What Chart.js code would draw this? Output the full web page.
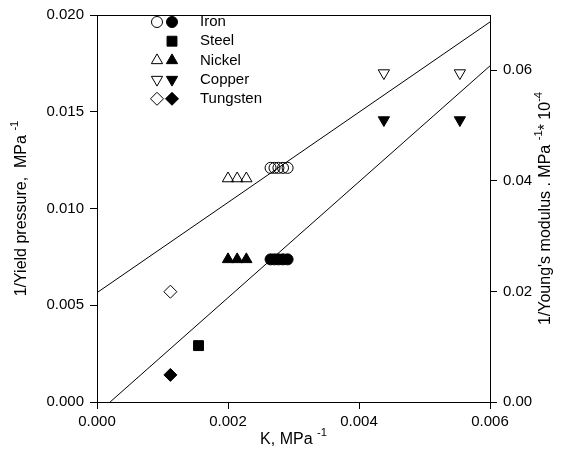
<!DOCTYPE html>
<html>
<head>
<meta charset="utf-8">
<script src="https://cdn.jsdelivr.net/npm/chart.js@4/dist/chart.umd.min.js"></script>
<style>
html,body{margin:0;padding:0;background:#fff;}
#wrap{width:569px;height:468px;}
</style>
</head>
<body>
<div id="wrap"><canvas id="c" width="569" height="468"></canvas></div>
<script>
// ---- data ----
const xTicks = [0, 0.002, 0.004, 0.006];
const yTicks = [0, 0.005, 0.010, 0.015, 0.020];
const y2Ticks = [0, 0.02, 0.04, 0.06];

const ironK = [0.00265, 0.00271, 0.00277, 0.00284, 0.00291];
const ironYield = [0.0121, 0.0121, 0.0121, 0.0121, 0.0121];
const ironYoung = [0.0258, 0.0258, 0.0258, 0.0258, 0.0258];

const steelK = [0.00155];
const steelYoung = [0.0102];

const nickelK = [0.00200, 0.00214, 0.00228];
const nickelYield = [0.01155, 0.01155, 0.01155];
const nickelYoung = [0.0258, 0.0258, 0.0258];

const copperK = [0.00438, 0.00554];
const copperYield = [0.0170, 0.0170];
const copperYoung = [0.0510, 0.0510];

const tungstenK = [0.00112];
const tungstenYield = [0.0057];
const tungstenYoung = [0.0049];

const fitYieldK = [0, 0.006];
const fitYieldV = [0.00565, 0.01964];
const fitYoungK = [0.0002, 0.006];
const fitYoungV = [0, 0.0608];

const legendNames = ['Iron', 'Steel', 'Nickel', 'Copper', 'Tungsten'];
const legendOpen = ['circle', null, 'triangle', 'triangleDown', 'rectRot'];
const legendFilled = ['circle', 'rect', 'triangle', 'triangleDown', 'rectRot'];

// ---- helpers ----
const pts = (xs, ys) => xs.map((x, i) => ({x: x, y: ys[i]}));
const FONT = "'Liberation Sans', Arial, sans-serif";
const styleFor = {
  circle: {pointStyle: 'circle', radius: 5.5, rotation: 0},
  rect: {pointStyle: 'rect', radius: 7, rotation: 0},
  triangle: {pointStyle: 'triangle', radius: 6.5, rotation: 0},
  triangleDown: {pointStyle: 'triangle', radius: 6.5, rotation: 180},
  rectRot: {pointStyle: 'rectRot', radius: 6.5, rotation: 0}
};
function scatter(data, shape, filled, axis) {
  const s = styleFor[shape];
  return {
    type: 'scatter', data: data, yAxisID: axis,
    pointStyle: s.pointStyle, pointRadius: s.radius, pointRotation: s.rotation,
    pointHoverRadius: s.radius,
    borderColor: '#000', borderWidth: 1,
    backgroundColor: filled ? '#000' : 'rgba(0,0,0,0)',
    pointBackgroundColor: filled ? '#000' : 'rgba(0,0,0,0)',
    pointBorderColor: '#000', pointBorderWidth: 1, showLine: false
  };
}
function fitLine(data, axis) {
  return {
    type: 'line', data: data, yAxisID: axis,
    borderColor: '#000', borderWidth: 1, pointRadius: 0, fill: false, tension: 0
  };
}

// Rich text drawer (supports superscripts)
function richWidth(ctx, parts, size) {
  let w = 0;
  parts.forEach(p => { ctx.font = (p.sup ? size * 0.7 : size) + 'px ' + FONT; w += ctx.measureText(p.t).width; });
  return w;
}
function drawRich(ctx, parts, cx, cy, size, rot) {
  ctx.save();
  ctx.translate(cx, cy);
  ctx.rotate(rot);
  const w = richWidth(ctx, parts, size);
  let x = -w / 2;
  ctx.fillStyle = '#000';
  ctx.textBaseline = 'middle';
  ctx.textAlign = 'left';
  parts.forEach(p => {
    ctx.font = (p.sup ? size * 0.7 : size) + 'px ' + FONT;
    ctx.fillText(p.t, x, p.sup ? -size * 0.45 : 0);
    x += ctx.measureText(p.t).width;
  });
  ctx.restore();
}

const decor = {
  id: 'decor',
  afterDraw(chart) {
    const ctx = chart.ctx;
    const a = chart.chartArea;
    // frame top line
    ctx.save();
    ctx.strokeStyle = '#000';
    ctx.lineWidth = 1;
    ctx.beginPath();
    ctx.moveTo(a.left, a.top + 0.5);
    ctx.lineTo(a.right, a.top + 0.5);
    ctx.stroke();
    ctx.restore();
    // axis titles
    drawRich(ctx, [{t: 'K, MPa '}, {t: '-1', sup: true}], (a.left + a.right) / 2, 440, 16, 0);
    drawRich(ctx, [{t: '1/Yield pressure,  MPa '}, {t: '-1', sup: true}], 22, (a.top + a.bottom) / 2, 16, -Math.PI / 2);
    drawRich(ctx, [{t: "1/Young's modulus . MPa "}, {t: '-1', sup: true}, {t: '* 10'}, {t: '-4', sup: true}], 546, (a.top + a.bottom) / 2, 16, -Math.PI / 2);
    // legend
    const x0 = 157, x1 = 172, tx = 200, ty0 = 22, dy = 19.2;
    legendNames.forEach((name, i) => {
      const y = ty0 + i * dy;
      [[legendOpen[i], false, x0], [legendFilled[i], true, x1]].forEach(([shape, filled, x]) => {
        if (!shape) return;
        const s = styleFor[shape];
        ctx.save();
        ctx.strokeStyle = '#000';
        ctx.fillStyle = filled ? '#000' : 'rgba(0,0,0,0)';
        ctx.lineWidth = 1;
        Chart.helpers.drawPoint(ctx, {pointStyle: s.pointStyle, radius: s.radius, rotation: s.rotation, borderWidth: 1}, x, y);
        ctx.restore();
      });
      ctx.save();
      ctx.font = '15px ' + FONT;
      ctx.fillStyle = '#000';
      ctx.textBaseline = 'middle';
      ctx.textAlign = 'left';
      ctx.fillText(name, tx, y);
      ctx.restore();
    });
  }
};

const tickFont = {family: FONT, size: 15};
new Chart(document.getElementById('c'), {
  data: {
    datasets: [
      fitLine(pts(fitYieldK, fitYieldV), 'y'),
      fitLine(pts(fitYoungK, fitYoungV), 'y2'),
      scatter(pts(ironK, ironYield), 'circle', false, 'y'),
      scatter(pts(ironK, ironYoung), 'circle', true, 'y2'),
      scatter(pts(steelK, steelYoung), 'rect', true, 'y2'),
      scatter(pts(nickelK, nickelYield), 'triangle', false, 'y'),
      scatter(pts(nickelK, nickelYoung), 'triangle', true, 'y2'),
      scatter(pts(copperK, copperYield), 'triangleDown', false, 'y'),
      scatter(pts(copperK, copperYoung), 'triangleDown', true, 'y2'),
      scatter(pts(tungstenK, tungstenYield), 'rectRot', false, 'y'),
      scatter(pts(tungstenK, tungstenYoung), 'rectRot', true, 'y2')
    ]
  },
  options: {
    responsive: false, animation: false, devicePixelRatio: 1,
    layout: {padding: {top: 15, left: 0, right: 0, bottom: 0}},
    plugins: {legend: {display: false}, tooltip: {enabled: false}},
    scales: {
      x: {
        type: 'linear', position: 'bottom', min: 0, max: 0.006,
        afterBuildTicks: s => { s.ticks = xTicks.map(v => ({value: v})); },
        afterFit: s => { s.height = 66; },
        ticks: {font: tickFont, color: '#000', padding: 4, maxRotation: 0, callback: v => v.toFixed(3)},
        grid: {drawOnChartArea: false, drawTicks: true, tickLength: 7, color: '#000'},
        border: {color: '#000', width: 1}
      },
      y: {
        type: 'linear', position: 'left', min: 0, max: 0.02,
        afterBuildTicks: s => { s.ticks = yTicks.map(v => ({value: v})); },
        afterFit: s => { s.width = 97; },
        ticks: {font: tickFont, color: '#000', padding: 6, callback: v => v.toFixed(3)},
        grid: {drawOnChartArea: false, drawTicks: true, tickLength: 7, color: '#000'},
        border: {color: '#000', width: 1}
      },
      y2: {
        type: 'linear', position: 'right', min: 0, max: 0.07,
        afterBuildTicks: s => { s.ticks = y2Ticks.map(v => ({value: v})); },
        afterFit: s => { s.width = 79; },
        ticks: {font: tickFont, color: '#000', padding: 6, callback: v => v.toFixed(2)},
        grid: {drawOnChartArea: false, drawTicks: true, tickLength: 7, color: '#000'},
        border: {color: '#000', width: 1}
      }
    }
  },
  plugins: [decor]
});
</script>
</body>
</html>
